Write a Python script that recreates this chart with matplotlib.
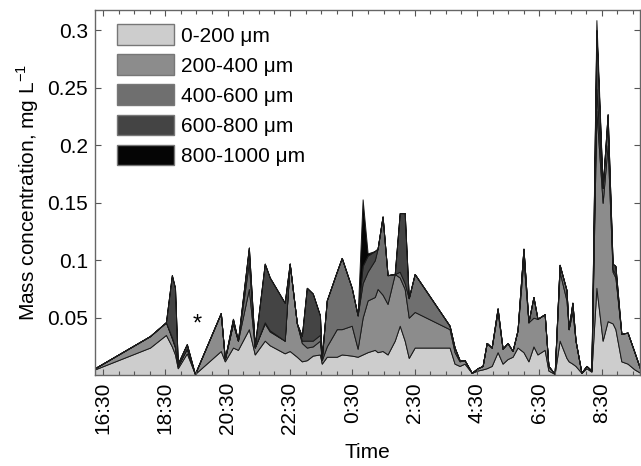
import matplotlib
matplotlib.use("Agg")
import matplotlib.pyplot as plt
from matplotlib.patches import Patch
import numpy as np

plt.rcParams['font.family'] = ['Liberation Sans', 'DejaVu Sans']

# time in decimal hours (values > 24 are after midnight)
hours = [16.24, 18.01, 18.52, 18.71, 18.81, 18.90, 19.19, 19.45, 20.28, 20.41,
         20.67, 20.83, 21.18, 21.37, 21.69, 21.85, 22.33, 22.49, 22.72, 22.88,
         23.04, 23.23, 23.46, 23.52, 23.68, 24.00, 24.16, 24.48, 24.67, 24.83,
         24.99, 25.22, 25.31, 25.47, 25.63, 25.86, 26.02, 26.18, 26.31, 26.50,
         27.62, 27.78, 27.94, 28.10, 28.33, 28.52, 28.68, 28.81, 28.97, 29.16,
         29.32, 29.48, 29.64, 29.80, 29.99, 30.15, 30.31, 30.44, 30.67, 30.79,
         30.99, 31.15, 31.37, 31.44, 31.56, 31.66, 31.85, 32.01, 32.17, 32.33,
         32.53, 32.69, 32.85, 32.94, 33.13, 33.33, 33.55, 33.74]

# cumulative tops of each size class (mg/L)
top_0_200 = [.005, .024, .035, .025, .018, .006, .019, .001, .021, .012,
             .024, .022, .040, .018, .030, .026, .019, .021, .016, .012,
             .013, .017, .018, .010, .016, .016, .018, .017, .016, .018,
             .020, .022, .020, .021, .018, .030, .043, .030, .015, .024,
             .024, .010, .008, .010, .002, .004, .005, .006, .008, .020,
             .010, .014, .016, .024, .020, .012, .025, .018, .022, .004,
             .001, .030, .015, .012, .010, .008, .002, .006, .003, .076,
             .030, .047, .045, .040, .012, .010, .005, .002]
top_200_400 = [.006, .034, .046, .032, .024, .008, .023, .001, .054, .014,
               .045, .030, .075, .024, .045, .038, .030, .097, .045, .028,
               .024, .025, .030, .013, .025, .040, .040, .043, .023, .050,
               .065, .068, .075, .070, .062, .088, .085, .075, .050, .055,
               .040, .020, .012, .013, .002, .006, .008, .028, .024, .055,
               .023, .028, .021, .039, .100, .046, .050, .049, .053, .008,
               .001, .090, .065, .040, .055, .030, .002, .008, .004, .230,
               .150, .200, .090, .085, .036, .037, .020, .005]
top_400_600 = [.006, .034, .046, .033, .025, .008, .023, .001, .054, .014,
               .045, .030, .098, .024, .046, .039, .030, .097, .045, .030,
               .030, .030, .035, .014, .065, .090, .102, .076, .052, .080,
               .090, .100, .110, .138, .087, .088, .090, .080, .067, .088,
               .043, .024, .013, .013, .002, .006, .008, .028, .024, .058,
               .023, .028, .021, .039, .110, .046, .068, .049, .053, .008,
               .001, .096, .074, .040, .063, .030, .002, .008, .004, .249,
               .163, .220, .092, .088, .036, .037, .020, .005]
top_600_800 = [.006, .034, .046, .087, .076, .010, .027, .001, .054, .014,
               .049, .030, .111, .025, .097, .085, .063, .097, .045, .034,
               .076, .071, .052, .015, .065, .090, .102, .076, .052, .095,
               .104, .108, .110, .138, .087, .088, .141, .141, .067, .088,
               .043, .024, .013, .013, .002, .006, .008, .028, .024, .058,
               .023, .028, .021, .039, .110, .046, .068, .049, .053, .008,
               .001, .096, .074, .040, .063, .030, .002, .008, .004, .300,
               .163, .227, .097, .095, .036, .037, .020, .005]
top_800_1000 = [.006, .034, .046, .087, .076, .010, .027, .001, .054, .014,
                .049, .030, .111, .025, .097, .085, .063, .097, .045, .034,
                .076, .071, .052, .015, .065, .090, .102, .076, .052, .153,
                .106, .108, .110, .138, .087, .088, .141, .141, .067, .088,
                .043, .024, .013, .013, .002, .006, .008, .028, .024, .058,
                .023, .028, .021, .039, .110, .046, .068, .049, .053, .008,
                .001, .096, .074, .040, .063, .030, .002, .008, .004, .309,
                .163, .227, .097, .095, .036, .037, .020, .005]

labels = ['0-200 \u03bcm', '200-400 \u03bcm', '400-600 \u03bcm',
          '600-800 \u03bcm', '800-1000 \u03bcm']
colors = ['#cdcdcd', '#8c8c8c', '#6f6f6f', '#444444', '#050505']

tick_hours = [16.5, 18.5, 20.5, 22.5, 24.5, 26.5, 28.5, 30.5, 32.5]

fig = plt.figure(figsize=(6.41, 4.66), dpi=100)
ax = fig.add_axes([0.148, 0.195, 0.851, 0.784])

t = np.array(hours)
tops = [np.zeros_like(t)] + [np.array(v) for v in
        (top_0_200, top_200_400, top_400_600, top_600_800, top_800_1000)]
for i in range(5):
    ax.fill_between(t, tops[i], tops[i + 1], facecolor=colors[i],
                    edgecolor='#1a1a1a', linewidth=0.7)

ax.text(19.51, 0.044, '*', fontsize=17, ha='center', va='center')

ax.set_xlim(16.24, 33.74)
ax.set_ylim(0, 0.318)
ax.set_xticks(tick_hours)
ax.set_xticklabels(['%d:30' % (int(h) % 24) for h in tick_hours],
                   rotation=90, fontsize=15)
ax.set_xticks(np.arange(16.5, 33.75, 0.5), minor=True)
ax.set_yticks([0.05, 0.1, 0.15, 0.2, 0.25, 0.3])
ax.set_yticklabels(['0.05', '0.1', '0.15', '0.2', '0.25', '0.3'], fontsize=15)
ax.tick_params(which='both', direction='in', top=True, right=True,
               color='#555555', length=4, width=0.8, pad=5)
ax.tick_params(which='minor', length=3)
for s in ax.spines.values():
    s.set_color('#666666')
    s.set_linewidth(1.0)

ax.set_xlabel('Time', fontsize=15, labelpad=6)
ax.set_ylabel('Mass concentration, mg L$^{\\mathregular{-1}}$', fontsize=15,
              labelpad=4)

handles = [Patch(facecolor=c, edgecolor='#777777', linewidth=1.0) for c in colors]
ax.legend(handles, labels, loc='upper left', bbox_to_anchor=(0.018, 0.995),
          frameon=False, fontsize=15, handlelength=2.75, handleheight=1.15,
          labelspacing=0.42, handletextpad=0.3, borderaxespad=0.2)

fig.savefig('out.png', dpi=100)
